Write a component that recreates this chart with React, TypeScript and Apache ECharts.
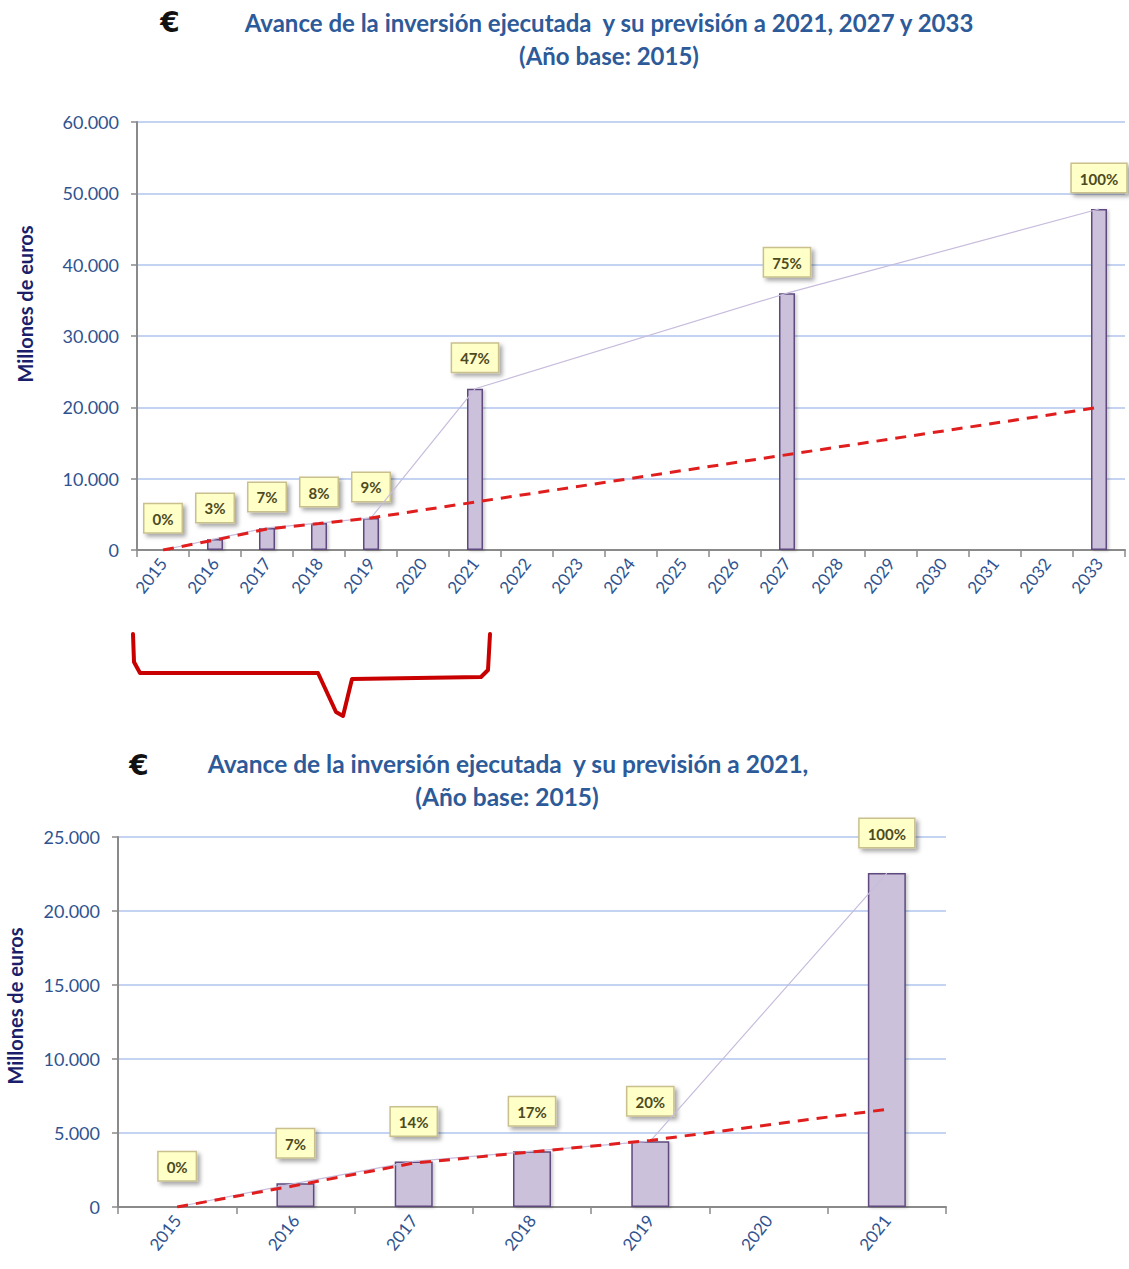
import React, { useEffect, useRef } from "react";
import * as echarts from "echarts";

// ---------- data ----------
const topYears = ["2015","2016","2017","2018","2019","2020","2021","2022","2023","2024","2025","2026","2027","2028","2029","2030","2031","2032","2033"];
const topInvest = [0, 1550, 3100, 3780, 4500, null, 22600, null, null, null, null, null, 36000, null, null, null, null, null, 47800];
const topTrend = [0, 1400, 2950, 3700, 4500, null, null, null, null, null, null, null, null, null, null, null, null, null, 20000];
const topPct = ["0%", "3%", "7%", "8%", "9%", "", "47%", "", "", "", "", "", "75%", "", "", "", "", "", "100%"];
const topTicks = [0, 10000, 20000, 30000, 40000, 50000, 60000];

const botYears = ["2015","2016","2017","2018","2019","2020","2021"];
const botInvest = [0, 1600, 3080, 3770, 4450, null, 22560];
const botTrend = [0, 1450, 2970, 3720, 4500, null, 6600];
const botPct = ["0%", "7%", "14%", "17%", "20%", "", "100%"];
const botTicks = [0, 5000, 10000, 15000, 20000, 25000];

const titleTop1 = "Avance de la inversión ejecutada  y su previsión a 2021, 2027 y 2033";
const titleTop2 = "(Año base: 2015)";
const titleBot1 = "Avance de la inversión ejecutada  y su previsión a 2021,";
const titleBot2 = "(Año base: 2015)";
const yName = "Millones de euros";

// ---------- styles ----------
const FONT = "Lato, 'Open Sans', sans-serif";
const TICK_COLOR = "#2F5390";
const GRID_COLOR = "#AFC4EC";
const AXIS_COLOR = "#8A8A8A";
const BAR_FILL = "#CCC1DB";
const BAR_BORDER = "#5E4A7E";
const LINE_COLOR = "#C7BCDC";
const TREND_COLOR = "#E01E1E";
const TITLE_COLOR = "#2D5A98";

const fmt = (v: number) => String(v).replace(/\B(?=(\d{3})+(?!\d))/g, ".");

const pctLabel = (arr: string[], dist: number) => ({
  show: true,
  position: "top",
  distance: dist,
  formatter: (p: any) => arr[p.dataIndex] || "",
  backgroundColor: "#FFFFC8",
  borderColor: "#C9C08E",
  borderWidth: 1.5,
  padding: [7, 8, 6, 8],
  color: "#4D4A1E",
  fontWeight: "bold",
  fontSize: 15,
  fontFamily: FONT,
  shadowColor: "rgba(0,0,0,0.35)",
  shadowBlur: 4,
  shadowOffsetX: 3,
  shadowOffsetY: 3,
});

function xAxisCfg(gridIndex: number, data: string[]) {
  return {
    type: "category",
    gridIndex,
    data,
    boundaryGap: true,
    axisLine: { lineStyle: { color: AXIS_COLOR, width: 2 } },
    axisTick: { show: true, length: 7, lineStyle: { color: AXIS_COLOR, width: 1.5 } },
    axisLabel: { rotate: 52, color: TICK_COLOR, fontSize: 17, fontFamily: FONT, margin: 10 },
    splitLine: { show: false },
  };
}

function yAxisCfg(gridIndex: number, max: number, interval: number) {
  return {
    type: "value",
    gridIndex,
    min: 0,
    max,
    interval,
    axisLine: { show: true, lineStyle: { color: AXIS_COLOR, width: 2 } },
    axisTick: { show: true, length: 6, lineStyle: { color: AXIS_COLOR, width: 1.5 } },
    axisLabel: { color: TICK_COLOR, fontSize: 18, fontFamily: FONT, formatter: (v: number) => fmt(v), margin: 18 },
    splitLine: { show: true, lineStyle: { color: GRID_COLOR, width: 1.5 } },
  };
}

export default function App() {
  const ref = useRef<HTMLDivElement>(null);
  useEffect(() => {
    if (!ref.current) return;
    const chart = echarts.init(ref.current, null, { renderer: "svg" });
    const barItem = { color: BAR_FILL, borderColor: BAR_BORDER, borderWidth: 1.5, shadowColor: "rgba(0,0,0,0.2)", shadowBlur: 3, shadowOffsetX: 2, shadowOffsetY: 1 };
    const option: any = {
      animation: false,
      backgroundColor: "#ffffff",
      grid: [
        { left: 137, top: 122, width: 988, height: 428 },
        { left: 118, top: 837, width: 828, height: 370 },
      ],
      xAxis: [xAxisCfg(0, topYears), xAxisCfg(1, botYears)],
      yAxis: [
        yAxisCfg(0, topTicks[topTicks.length - 1], topTicks[1] - topTicks[0]),
        yAxisCfg(1, botTicks[botTicks.length - 1], botTicks[1] - botTicks[0]),
      ],
      series: [
        { type: "bar", xAxisIndex: 0, yAxisIndex: 0, data: topInvest, barWidth: 16, itemStyle: barItem, label: pctLabel(topPct, 17), z: 2 },
        { type: "line", xAxisIndex: 0, yAxisIndex: 0, data: topInvest, connectNulls: true, symbol: "none", lineStyle: { color: LINE_COLOR, width: 1.2 }, z: 3 },
        { type: "line", xAxisIndex: 0, yAxisIndex: 0, data: topTrend, connectNulls: true, symbol: "none", lineStyle: { color: TREND_COLOR, width: 3, type: [11, 8] }, z: 4 },
        { type: "bar", xAxisIndex: 1, yAxisIndex: 1, data: botInvest, barWidth: 38, itemStyle: barItem, label: pctLabel(botPct, 26), z: 2 },
        { type: "line", xAxisIndex: 1, yAxisIndex: 1, data: botInvest, connectNulls: true, symbol: "none", lineStyle: { color: LINE_COLOR, width: 1.2 }, z: 3 },
        { type: "line", xAxisIndex: 1, yAxisIndex: 1, data: botTrend, connectNulls: true, symbol: "none", lineStyle: { color: TREND_COLOR, width: 3, type: [11, 8] }, z: 4 },
      ],
      graphic: [
        { type: "text", x: 170, y: 22, style: { text: "€", fill: "#111", font: "bold 28px 'DejaVu Sans', sans-serif", textAlign: "center", textVerticalAlign: "middle" } },
        { type: "text", x: 609, y: 22, style: { text: titleTop1, fill: TITLE_COLOR, font: `bold 24px ${FONT}`, textAlign: "center", textVerticalAlign: "middle" } },
        { type: "text", x: 609, y: 55, style: { text: titleTop2, fill: TITLE_COLOR, font: `bold 24px ${FONT}`, textAlign: "center", textVerticalAlign: "middle" } },
        { type: "text", x: 139, y: 765, style: { text: "€", fill: "#111", font: "bold 28px 'DejaVu Sans', sans-serif", textAlign: "center", textVerticalAlign: "middle" } },
        { type: "text", x: 508, y: 763, style: { text: titleBot1, fill: TITLE_COLOR, font: `bold 24.5px ${FONT}`, textAlign: "center", textVerticalAlign: "middle" } },
        { type: "text", x: 507, y: 796, style: { text: titleBot2, fill: TITLE_COLOR, font: `bold 24.5px ${FONT}`, textAlign: "center", textVerticalAlign: "middle" } },
        { type: "text", x: 25, y: 304, rotation: Math.PI / 2, style: { text: yName, fill: "#1B1F6B", font: `bold 20px ${FONT}`, textAlign: "center", textVerticalAlign: "middle" } },
        { type: "text", x: 15, y: 1006, rotation: Math.PI / 2, style: { text: yName, fill: "#1B1F6B", font: `bold 20px ${FONT}`, textAlign: "center", textVerticalAlign: "middle" } },
        {
          type: "polyline",
          shape: { points: [[133, 634], [134, 662], [140, 673], [318, 673], [336, 712], [343, 716], [352, 679], [481, 677], [488, 670], [490, 634]] },
          style: { stroke: "#C80000", lineWidth: 4, fill: "none", lineJoin: "round", lineCap: "round" },
        },
      ],
    };
    chart.setOption(option);
    return () => chart.dispose();
  }, []);
  return <div ref={ref} style={{ position: "absolute", left: 0, top: 0, width: 1129, height: 1269 }} />;
}
